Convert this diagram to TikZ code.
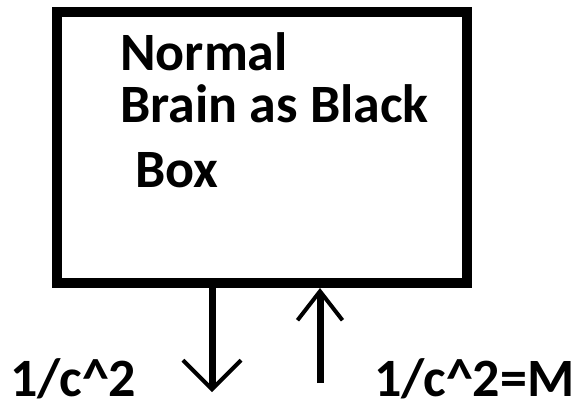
\documentclass[tikz,border=0pt]{standalone}
\usepackage{fontspec}
\setmainfont{Carlito}
\usetikzlibrary{arrows.meta}

\begin{document}
\begin{tikzpicture}[x=1pt,y=-1pt,
    every node/.style={inner sep=0pt,font=\fontsize{54}{60}\selectfont\bfseries},
    blackbox/.style={draw,line width=10pt,minimum width=410.5pt,minimum height=271pt},
    label text/.style={anchor=base west},
    flow/.style={line width=7pt,-{Straight Barb[length=29pt,width=#1,line width=4pt]}},
    flow/.default=52pt]
  \useasboundingbox[fill=white] (0,0) rectangle (573,408);
  \node[blackbox] (brain) at (261.75,147.5) {};
  \node[label text] (line1) at (120,70) {Normal};
  \node[label text] (line2) at (120,122) {Brain as Black};
  \node[label text] (line3) at (135,187) {Box};
  % output and input
  \coordinate (outA) at (212,392);
  \coordinate (inB) at (320,383);
  \draw[flow=58pt] (brain.south -| outA) -- (outA);
  \draw[flow=45pt] (inB) -- (brain.south -| inB);
  \node[label text] (outlabel) at (10,396) {1/c\^{}2};
  \node[label text] (inlabel) at (374,396) {1/c\^{}2=M};
\end{tikzpicture}
\end{document}
